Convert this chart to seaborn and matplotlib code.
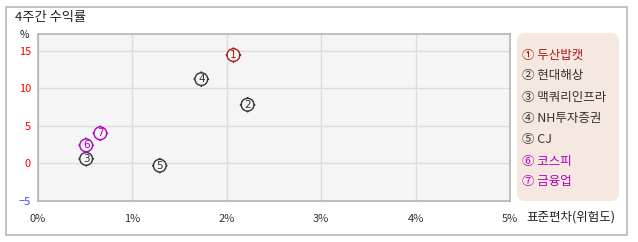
import matplotlib
matplotlib.use("Agg")
import matplotlib.pyplot as plt
import seaborn as sns
import pandas as pd
from matplotlib.path import Path
from matplotlib.patches import FancyBboxPatch, Rectangle

# ---- data ----
nums = ["1", "2", "3", "4", "5", "6", "7"]
names = ["두산밥캣", "현대해상", "맥쿼리인프라", "NH투자증권", "CJ", "코스피", "금융업"]
circled = ["①", "②", "③", "④", "⑤", "⑥", "⑦"]
risk = [2.07, 2.22, 0.51, 1.73, 1.29, 0.51, 0.66]      # 표준편차 (%)
ret4w = [14.4, 7.8, 0.6, 11.2, -0.3, 2.4, 4.0]         # 4주간 수익률 (%)
x_ticks = [0, 1, 2, 3, 4, 5]
x_labels = ["0%", "1%", "2%", "3%", "4%", "5%"]
y_ticks = [-5, 0, 5, 10, 15]
y_labels = ["−5", "0", "5", "10", "15"]

RED = "#b01818"
DARK = "#333333"
PURP = "#b000c0"
colors = [RED, DARK, DARK, DARK, DARK, PURP, PURP]

sns.set_theme(style="white")
plt.rcParams["font.family"] = ["Noto Sans CJK KR", "DejaVu Sans"]

df = pd.DataFrame({"num": nums, "name": names, "risk": risk, "ret": ret4w})

W, H = 638, 242
fig = plt.figure(figsize=(W / 100, H / 100), dpi=100)
fig.patch.set_facecolor("white")

# overlay in pixel coordinates
ov = fig.add_axes([0, 0, 1, 1], zorder=0)
ov.set_xlim(0, W)
ov.set_ylim(H, 0)
ov.axis("off")
ov.add_patch(Rectangle((6, 7), 621, 228, fill=False, edgecolor="#b8b8b8", lw=1.2))
ov.add_patch(FancyBboxPatch((520, 36), 96, 162, boxstyle="round,pad=3,rounding_size=8",
                            facecolor="#f5e8e1", edgecolor="none"))
ov.text(15, 18, "4주간 수익률", fontsize=9.5, color="#222222", va="center", ha="left")
ov.text(24, 35, "%", fontsize=7.5, color="#222222", va="center", ha="center")
ov.text(526, 217, "표준편차(위험도)", fontsize=9, color="#222222", va="center", ha="left")
leg_y = [55, 76, 97, 118.5, 140, 161, 182]
for i in range(len(names)):
    ov.text(522, leg_y[i], f"{circled[i]} {names[i]}", fontsize=9, color=colors[i],
            va="center", ha="left")

# main plot
ax = fig.add_axes([38 / W, 1 - 201 / H, (510 - 38) / W, (201 - 34) / H], zorder=1)
ax.set_facecolor("#f5f5f5")

circ = Path.unit_circle()
ticks = []
for (a, b) in [((1, 0), (1.22, 0)), ((-1, 0), (-1.22, 0)), ((0, 1), (0, 1.22)), ((0, -1), (0, -1.22))]:
    ticks.append(Path([a, b], [Path.MOVETO, Path.LINETO]))
mpath = Path.make_compound_path(circ, *ticks)

sns.scatterplot(data=df, x="risk", y="ret", hue="num", palette=dict(zip(nums, colors)),
                marker=mpath, s=125, linewidth=1.0, legend=False, ax=ax, zorder=3)
coll = ax.collections[0]
fc = coll.get_facecolors()
coll.set_edgecolors(fc)
coll.set_facecolors("#f5f5f5")

for i in range(len(nums)):
    ax.text(risk[i], ret4w[i], nums[i], fontsize=7.5, color=colors[i],
            ha="center", va="center", zorder=4, family="DejaVu Sans")

ax.set_xlim(0, 5)
ax.set_ylim(-5, 17.2)
ax.set_xticks(x_ticks)
ax.set_xticklabels(x_labels)
ax.set_yticks(y_ticks)
ax.set_yticklabels(y_labels)
ax.grid(True, color="#dcdcdc", lw=1)
ax.set_axisbelow(True)
for sp in ax.spines.values():
    sp.set_color("#b4b4b4")
    sp.set_linewidth(1.2)
ax.tick_params(axis="x", length=0, pad=9, labelsize=8, colors="#333333")
ax.tick_params(axis="y", length=0, pad=5, labelsize=8)
for lab, v in zip(ax.get_yticklabels(), y_ticks):
    lab.set_color("#4444ff" if v < 0 else "#ff0000")
ax.set_xlabel("")
ax.set_ylabel("")

fig.savefig("out.png", dpi=100)
